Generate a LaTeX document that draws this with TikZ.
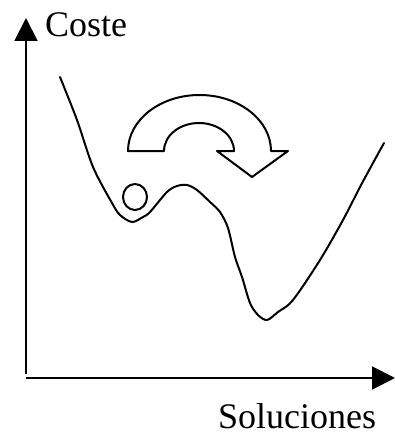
\documentclass[tikz,border=0pt]{standalone}
\usepackage{fontspec}
\setmainfont{Liberation Serif}
\usetikzlibrary{arrows.meta}
\begin{document}
\begin{tikzpicture}[x=1pt,y=-1pt,
  axisline/.style={line width=2pt,-{Triangle[length=23pt,width=23pt]}},
  curveline/.style={line width=2pt,line join=round,line cap=round},
  lbl/.style={font=\fontsize{36}{40}\selectfont,inner sep=0pt,anchor=base west}]
\useasboundingbox (0,0) rectangle (395,433);
% axes
\coordinate (origin) at (26,378);
\coordinate (ybot) at (26,374);
\coordinate (ytop) at (26,18);
\coordinate (xend) at (395,378);
\draw[axisline] (ybot) -- (ytop);
\draw[axisline] (origin) -- (xend);
\node[lbl] (coste) at (45,37) {Coste};
\node[lbl] (sol) at (218,428) {Soluciones};
% cost curve
\draw[curveline] plot[smooth,tension=0.5] coordinates {
 (60,77) (77,120) (93,167) (112,203) (120,215) (132,222) (143,217) (150,212)
 (167,192) (177,186) (187,185) (197,190) (210,202) (220,212) (228,228)
 (235,257) (242,277) (250,303) (258,315) (267,320) (278,312) (293,300)
 (320,260) (343,220) (360,187) (373,163) (384,143)};
% ball
\draw[curveline] (135,197) ellipse [x radius=12, y radius=13];
% curved arrow
\draw[curveline] (128,151) arc[start angle=180,end angle=360,x radius=71.5,y radius=56]
  -- (288,151) -- (252,177) -- (217,151) -- (234,151)
  arc[start angle=0,end angle=-180,x radius=35,y radius=28] -- cycle;
\end{tikzpicture}
\end{document}
